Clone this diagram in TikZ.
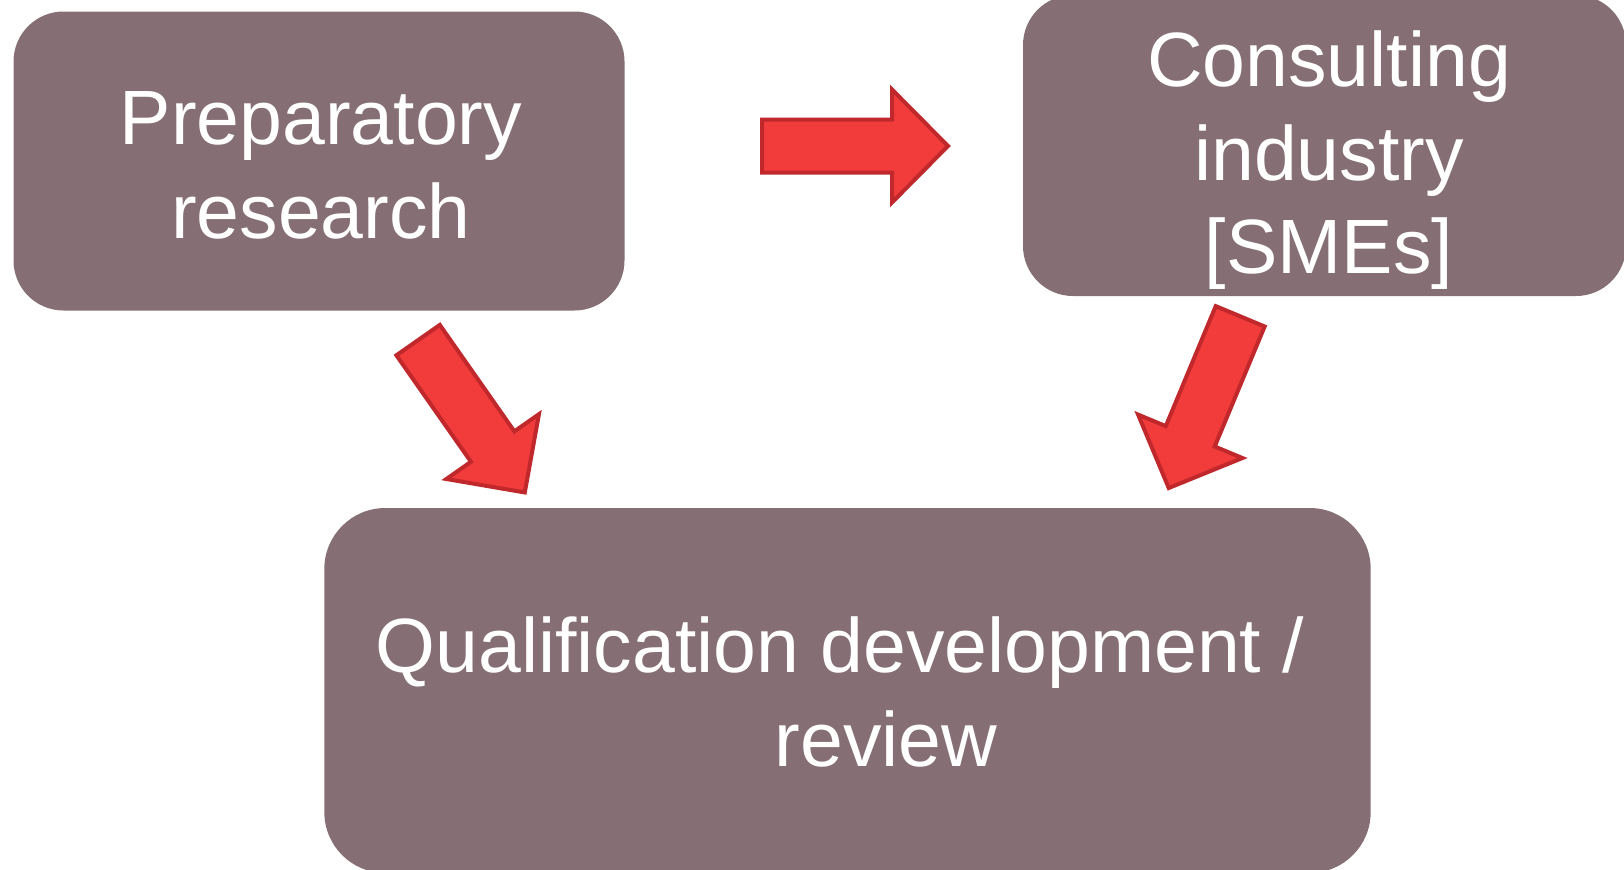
\documentclass[tikz,border=0pt]{standalone}
\usepackage{fontspec}
\setmainfont{Liberation Sans}
\usepackage{xcolor}
\usepackage{tikz}
\usetikzlibrary{positioning}

\definecolor{cardgrey}{RGB}{133,111,116}
\definecolor{arrowred}{RGB}{242,60,60}
\definecolor{arrowedge}{RGB}{192,40,44}

\tikzset{
  card/.style={rectangle, fill=cardgrey, inner sep=0pt},
  cardtext/.style={text=white, align=center, inner sep=0pt,
    font=\fontsize{38.5}{47}\selectfont},
  redarrow/.style={fill=arrowred, draw=arrowedge, line width=2pt, line join=miter}
}

\begin{document}
\begin{tikzpicture}[x=0.5pt, y=-0.5pt]
    \useasboundingbox (0,0) rectangle (1624,869);
    \clip (0,0) rectangle (1624,869);

    % Boxes
    \node[card, minimum width=305.5pt, minimum height=149.5pt, rounded corners=25pt] (prep) at (319,161) {};
    \node[card, minimum width=301.5pt, minimum height=150.5pt, rounded corners=25pt] (consult) at (1324.5,145.5) {};
    \node[card, minimum width=523.2pt, minimum height=182.5pt, rounded corners=30.5pt] (qual) at (847.5,690.5) {};

    % Labels
    \node[cardtext] (preptext) at (321,165.5) {Preparatory\\research};
    \node[cardtext, font=\fontsize{38.5}{46.75}\selectfont] (consulttext) at (1329,160.5) {Consulting\\industry\\{}[SMEs]};
    \node[cardtext] (qualtext) at (840,692) {Qualification development /\\\hspace*{46pt}review};

    % Arrows
    \draw[redarrow, shift={(762,146)}, rotate=0]
        (0,-26.5) -- (130,-26.5) -- (130,-56.5) -- (186,0) -- (130,56.5) -- (130,26.5) -- (0,26.5) -- cycle;
    \draw[redarrow, shift={(418.1,340.1)}, rotate=-55]
        (0,-26.5) -- (130,-26.5) -- (130,-56.5) -- (186,0) -- (130,56.5) -- (130,26.5) -- (0,26.5) -- cycle;
    \draw[redarrow, shift={(1240.2,316.3)}, rotate=-112.6]
        (0,-26.5) -- (130,-26.5) -- (130,-56.5) -- (186,0) -- (130,56.5) -- (130,26.5) -- (0,26.5) -- cycle;
\end{tikzpicture}
\end{document}
